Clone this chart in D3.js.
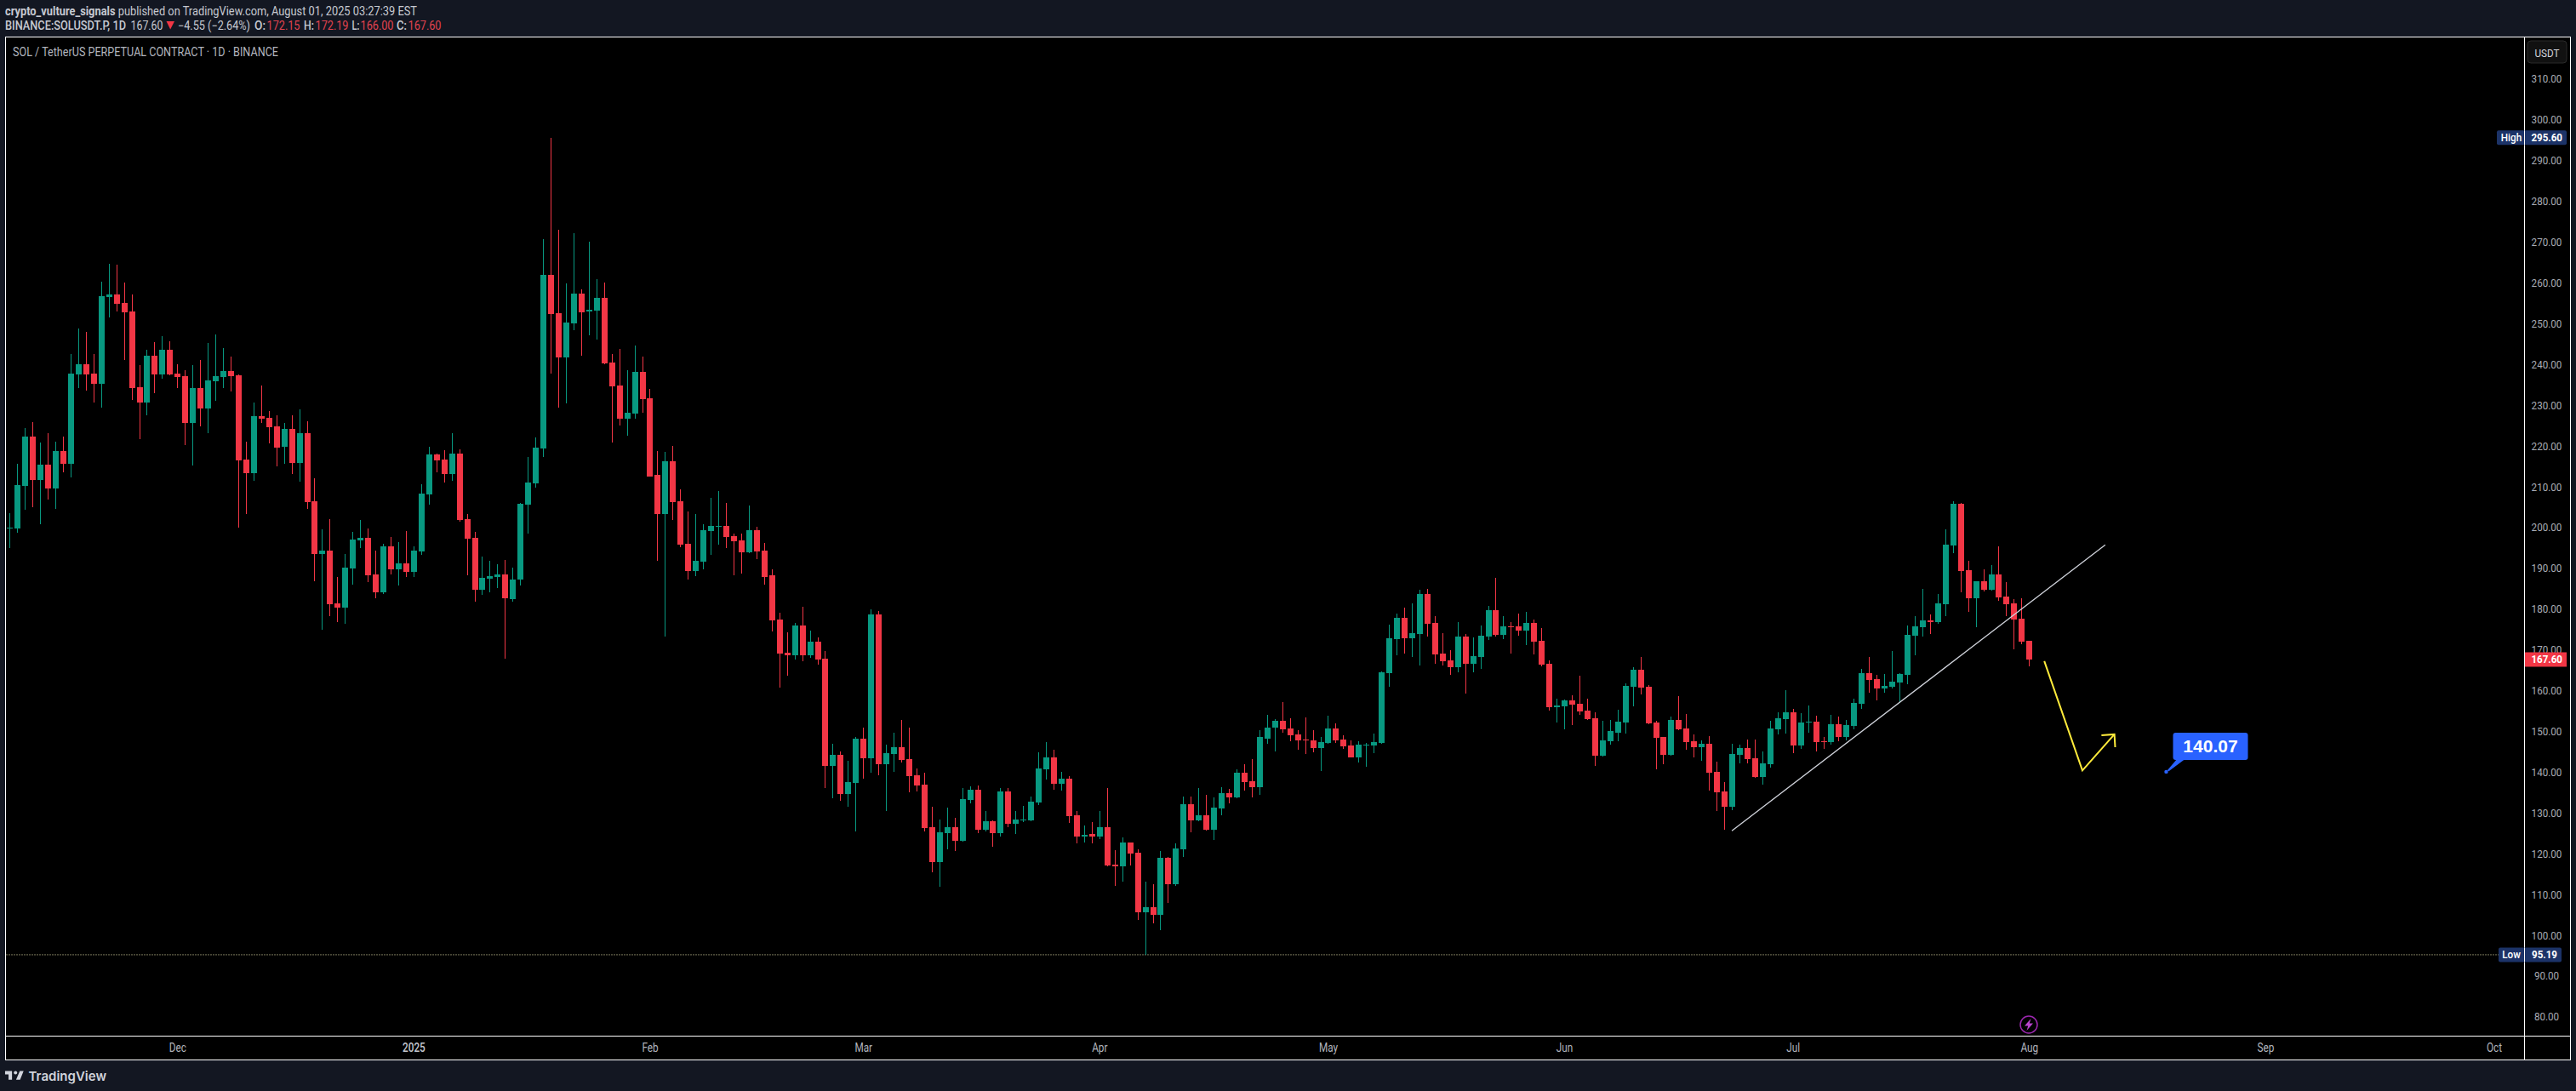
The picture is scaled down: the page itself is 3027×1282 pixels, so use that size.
<!DOCTYPE html>
<html>
<head>
<meta charset="utf-8">
<title>SOL / TetherUS 1D</title>
<script src="https://cdnjs.cloudflare.com/ajax/libs/d3/7.8.5/d3.min.js"></script>
<style>
  html, body { margin: 0; padding: 0; background: #131722; }
  svg { display: block; }
  text { font-family: Roboto, "Noto Sans", sans-serif; }
</style>
</head>
<body>
<div id="chart"></div>
<script>
// daily candles, first one is 2024-11-09, last one 2025-08-01. [open, high, low, close]
const firstDay = Date.UTC(2024, 10, 9);
const ohlc = [
  [199.7,203.4,194.9,199.9],[199.7,215.6,198.6,210.3],[210.1,224.3,204.3,222.2],[222.2,225.8,204.9,211.6],
  [211.6,220.8,200.7,215.4],[215.4,223.1,206.8,209.5],[209.5,221.0,204.5,218.7],[218.7,222.2,213.5,215.6],
  [215.6,242.5,212.2,237.7],[237.5,248.8,234.1,240.0],[240.0,247.9,233.5,237.5],[237.7,242.5,230.6,235.2],
  [235.2,260.2,229.3,256.7],[256.5,264.6,251.5,257.1],[257.1,264.4,252.9,254.8],[255.0,260.0,241.0,252.7],
  [252.9,257.1,231.2,234.1],[234.3,239.8,221.6,230.6],[230.6,243.5,227.5,242.1],[242.1,245.4,232.9,237.5],
  [237.5,246.9,236.4,243.5],[243.5,245.6,237.4,237.5],[237.7,240.0,234.1,236.9],[237.1,238.5,220.2,225.6],
  [225.6,239.8,215.1,234.1],[234.1,241.0,224.7,229.1],[229.1,245.2,223.1,236.0],[235.8,247.3,231.0,237.1],
  [236.9,244.0,234.1,238.3],[238.3,241.9,233.3,237.1],[237.3,237.5,199.9,216.4],[216.6,221.0,203.2,213.3],
  [213.3,230.6,211.4,227.2],[227.2,234.8,225.6,226.6],[226.8,228.5,220.6,224.5],[224.7,227.5,214.9,219.5],
  [219.7,225.6,215.6,224.1],[224.1,227.5,213.0,215.8],[215.8,228.9,211.2,223.1],[223.1,226.0,204.5,206.2],
  [206.4,212.0,186.9,193.4],[193.4,199.5,175.0,194.3],[194.3,202.0,178.2,181.1],[181.3,187.8,176.7,180.3],
  [180.3,193.4,176.3,190.1],[189.9,198.9,185.9,197.0],[196.8,201.8,194.9,197.4],[197.4,199.7,186.5,188.2],
  [188.4,194.3,182.6,184.0],[184.0,195.9,183.6,195.3],[195.3,197.6,188.4,189.7],[189.7,196.3,185.7,191.1],
  [191.1,199.1,187.8,189.0],[189.0,195.3,187.8,194.3],[194.0,210.5,193.2,208.2],[208.0,219.7,205.5,217.9],
  [217.9,218.1,213.5,216.4],[216.6,218.9,211.1,213.1],[213.1,223.1,211.4,218.1],[218.1,219.1,201.4,201.8],
  [202.0,203.3,188.2,197.2],[197.4,198.9,181.7,184.7],[184.7,192.8,183.5,187.6],[187.3,191.8,184.1,188.0],
  [187.8,190.9,185.1,188.5],[188.5,192.0,167.8,182.6],[182.6,190.1,181.7,187.3],[187.2,206.0,185.7,205.8],
  [205.5,217.2,198.4,211.0],[210.8,222.1,209.8,219.5],[219.4,270.7,217.2,262.0],[262.0,295.6,237.7,252.3],
  [252.5,272.9,229.3,241.7],[241.7,259.9,230.4,250.3],[250.0,272.2,248.4,257.4],[257.4,258.4,242.1,252.9],
  [252.9,270.1,247.1,253.4],[253.1,260.9,246.0,256.3],[256.3,260.0,240.1,240.2],[240.4,242.5,220.8,234.6],
  [234.8,243.8,225.0,226.6],[226.6,238.5,222.5,228.1],[227.9,244.6,226.6,238.1],[238.1,241.9,228.1,231.4],
  [231.7,233.9,212.5,212.6],[212.9,218.7,191.8,203.3],[203.3,218.5,173.2,216.2],[216.2,220.0,201.8,206.2],
  [206.4,209.3,195.1,195.7],[195.9,203.9,187.2,189.3],[189.3,203.3,188.0,191.8],[191.6,200.8,189.7,199.3],
  [199.1,207.3,193.2,200.3],[200.1,208.9,195.7,200.3],[200.3,206.0,194.9,197.6],[197.8,198.4,188.2,196.6],
  [196.8,198.4,188.6,193.8],[193.8,205.4,193.7,199.3],[199.3,200.2,192.2,194.1],[194.3,196.2,186.0,187.8],
  [188.2,189.7,174.5,177.1],[177.4,179.0,160.7,169.0],[169.3,174.3,163.6,168.6],[168.6,176.5,167.6,175.9],
  [175.9,180.5,167.1,168.6],[168.6,174.6,168.0,171.9],[171.9,173.0,166.3,167.5],[167.8,169.6,136.0,141.5],
  [141.5,146.9,133.5,144.2],[144.2,145.0,133.0,134.5],[134.5,142.7,131.5,137.5],[137.3,148.5,125.4,148.1],
  [148.1,151.0,138.3,143.3],[143.3,179.9,139.8,178.6],[178.6,179.5,139.2,141.9],[141.9,146.7,130.4,144.6],
  [144.4,149.6,140.0,146.0],[146.0,152.7,142.3,142.9],[143.1,150.9,135.0,138.9],[139.2,140.8,135.2,136.7],
  [136.9,139.8,125.4,126.2],[126.4,131.4,115.4,117.9],[117.9,128.3,111.8,125.2],[125.0,131.2,121.0,126.4],
  [126.4,128.7,120.6,123.1],[123.1,136.0,122.9,133.3],[133.1,136.4,132.3,135.6],[135.7,136.7,125.0,125.8],
  [125.8,130.4,125.4,127.9],[127.9,128.1,121.6,125.0],[125.0,136.0,124.1,135.2],[135.2,136.0,126.4,127.3],
  [127.3,130.4,124.8,128.3],[128.1,131.6,127.7,128.3],[128.1,133.9,128.0,132.7],[132.5,144.8,131.9,140.8],
  [140.6,147.3,138.1,143.5],[143.5,145.4,135.6,137.1],[137.1,140.0,135.4,138.3],[138.3,139.0,127.5,129.1],
  [129.3,130.4,122.5,124.1],[124.1,126.8,122.7,124.5],[124.8,127.7,122.5,124.1],[124.1,130.4,123.5,126.4],
  [126.4,136.0,116.9,117.0],[117.2,120.8,112.0,116.8],[116.8,123.9,113.1,122.7],[122.7,122.8,117.0,119.9],
  [120.2,121.0,103.7,105.5],[105.5,113.1,95.19,106.8],[106.8,112.4,102.8,104.9],[104.9,120.6,101.2,118.9],
  [118.9,119.1,108.0,112.4],[112.4,122.5,112.0,121.2],[121.0,133.9,119.1,132.1],[132.1,133.9,125.2,128.1],
  [128.1,136.0,127.9,129.3],[129.3,134.4,125.6,125.8],[125.8,133.7,123.3,131.2],[131.0,136.2,129.3,134.8],
  [134.8,135.8,132.3,133.7],[133.7,140.6,133.5,139.8],[139.8,141.9,135.4,137.5],[137.7,143.1,133.7,136.2],
  [136.2,150.2,134.4,148.5],[148.3,154.0,146.9,151.0],[150.9,152.9,145.0,152.5],[152.5,157.1,149.6,150.4],
  [150.6,153.1,147.5,149.0],[149.2,150.2,145.4,147.7],[147.9,153.4,144.4,147.7],[147.7,150.2,144.8,145.8],
  [145.8,148.6,140.2,147.3],[147.1,153.8,147.0,150.6],[150.6,151.9,147.1,147.7],[147.9,149.0,145.6,146.2],
  [146.5,147.7,143.5,143.5],[143.5,147.5,142.3,146.7],[146.5,147.1,141.2,146.7],[146.5,149.4,144.6,147.3],
  [147.1,164.6,146.9,164.4],[164.2,176.1,160.9,172.8],[172.6,178.8,168.6,177.8],[177.8,180.3,169.0,172.8],
  [172.8,181.3,168.2,174.0],[173.8,184.7,166.1,183.6],[183.6,184.9,173.2,176.3],[176.5,178.2,166.5,168.8],
  [169.0,174.0,166.1,167.1],[167.3,169.8,163.8,165.7],[165.7,176.7,164.4,173.2],[173.2,173.8,159.2,166.5],
  [166.5,173.0,164.4,168.4],[168.2,175.9,165.3,173.4],[173.2,180.7,172.4,179.7],[179.7,187.6,173.2,173.6],
  [173.6,178.2,172.6,175.7],[175.7,176.7,169.0,175.5],[175.7,178.8,173.4,174.7],[174.7,179.2,171.1,176.5],
  [176.5,177.4,168.8,171.9],[172.1,175.3,165.9,166.3],[166.5,167.3,155.0,155.9],[155.9,157.9,152.1,156.3],
  [156.1,157.7,150.4,157.5],[157.5,158.8,151.5,156.5],[156.7,163.6,154.0,154.8],[155.0,157.9,152.7,152.9],
  [153.1,154.6,141.5,144.0],[144.0,152.5,143.9,147.7],[147.5,152.7,146.7,150.0],[149.6,155.2,147.5,152.3],
  [152.1,161.7,149.4,161.1],[160.9,165.7,156.1,165.0],[165.0,168.2,159.0,160.7],[160.9,161.3,151.8,151.9],
  [152.1,152.5,140.6,148.3],[148.5,148.6,141.9,144.2],[144.2,153.6,144.1,152.7],[152.7,158.6,150.2,150.4],
  [150.6,154.2,145.4,147.3],[147.5,149.2,143.5,146.0],[146.0,147.7,142.7,146.9],[146.9,148.8,135.4,139.8],
  [140.0,142.5,130.4,135.0],[135.2,137.5,125.8,131.4],[131.4,146.9,130.6,144.4],[144.2,146.7,142.1,145.8],
  [145.8,147.9,142.1,143.1],[143.3,147.9,138.5,138.7],[138.7,145.0,136.9,142.1],[141.9,152.5,141.0,150.6],
  [150.4,154.6,149.2,153.1],[152.9,160.0,149.4,154.6],[154.6,155.4,144.6,146.5],[146.5,154.4,145.6,152.1],
  [152.1,156.3,149.6,152.3],[152.3,153.8,145.0,147.3],[147.5,148.5,145.6,147.3],[147.3,154.0,146.7,151.7],
  [151.7,153.6,147.5,148.5],[148.5,152.7,147.7,151.5],[151.3,157.9,150.4,156.9],[156.7,165.3,155.4,164.2],
  [164.2,168.2,159.4,162.5],[162.7,163.8,157.5,160.4],[160.4,164.0,159.4,161.1],[160.9,169.6,160.4,162.1],
  [161.9,164.2,157.1,164.0],[163.8,175.9,161.5,173.6],[173.4,178.2,168.6,175.7],[175.5,184.9,173.2,177.2],
  [177.2,178.6,173.8,176.7],[176.7,183.6,176.3,181.3],[181.1,199.5,178.2,195.7],[195.5,206.4,193.6,205.8],
  [205.8,205.9,184.0,189.3],[189.5,191.8,179.2,182.6],[182.6,186.9,175.5,186.8],[186.8,189.7,184.2,184.7],
  [184.7,190.7,184.5,188.4],[188.4,195.3,182.0,182.8],[183.0,186.5,178.2,181.1],[181.3,182.4,170.1,177.4],
  [177.6,182.6,171.3,171.9],[172.15,172.19,166.0,167.6]
];

// axes
const priceTicks = d3.range(80, 320, 10);
const monthStarts = [[2024, 11], [2025, 0], [2025, 1], [2025, 2], [2025, 3], [2025, 4], [2025, 5], [2025, 6], [2025, 7], [2025, 8], [2025, 9]];
const monthLabels = ['Dec', '2025', 'Feb', 'Mar', 'Apr', 'May', 'Jun', 'Jul', 'Aug', 'Sep', 'Oct'];

// drawings, in candle index / price
const trendDays = [226, 275];
const trendPrices = [125.6, 195.7];
const arrowDays = [267, 272, 276.2];
const arrowPrices = [167.2, 140.4, 149.25];
const arrowHeadDays = [274.5, 276.2, 276.3];
const arrowHeadPrices = [149.0, 149.25, 146.1];
const calloutDay = 283;
const calloutPrice = 140.07;
const highPrice = 295.60;
const lowPrice = 95.19;
const lastPrice = 167.60;

const width = 3027, height = 1282;
const up = '#089981', down = '#f23645';
const left = 6.5, top_ = 43.5, paneRight = 2966.5, frameRight = 3020.5, paneBottom = 1217.5, frameBottom = 1245.5;

const dayDate = i => new Date(firstDay + i * 864e5);
const x = d3.scaleUtc().domain([dayDate(0), dayDate(265)]).range([11.3, 2384.3]);
const y = d3.scaleLinear().domain([80, 310]).range([1194.7, 92.7]);

const svg = d3.select('#chart').append('svg').attr('width', width).attr('height', height);

// the reference type is a bit narrower than Roboto, squeeze to fit
function narrow(sel, k) {
  sel.each(function () {
    this.setAttribute('textLength', this.getComputedTextLength() * k);
    this.setAttribute('lengthAdjust', 'spacingAndGlyphs');
  });
  return sel;
}

// black panes and white frame
svg.append('rect').attr('x', left).attr('y', top_).attr('width', frameRight - left).attr('height', frameBottom - top_)
  .attr('fill', '#000').attr('stroke', '#fff').attr('stroke-width', 1);
svg.append('path').attr('d', `M${paneRight},${top_}V${frameBottom}M${left},${paneBottom}H${frameRight}`)
  .attr('stroke', '#fff').attr('fill', 'none');

// header
const head = svg.append('g').attr('font-size', 14).attr('fill', '#c6c9d1');
function label(g, str, px, py, w, opts) {
  const t = g.append('text').attr('x', px).attr('y', py).attr('textLength', w).attr('lengthAdjust', 'spacingAndGlyphs').text(str);
  if (opts && opts.bold) t.attr('font-weight', opts.bold);
  if (opts && opts.fill) t.attr('fill', opts.fill);
  return t;
}
const byline = head.append('text').attr('x', 6).attr('y', 17.5).attr('textLength', 484).attr('lengthAdjust', 'spacingAndGlyphs');
byline.append('tspan').attr('font-weight', 700).text('crypto_vulture_signals');
byline.append('tspan').text(' published on TradingView.com, August 01, 2025 03:27:39 EST');
label(head, 'BINANCE:SOLUSDT.P, 1D', 6, 34.5, 142, {bold: 500});
label(head, '167.60', 153.5, 34.5, 38);
head.append('path').attr('d', 'M195.5,25H205L200.2,34.5Z').attr('fill', down);
label(head, '\u22124.55 (\u22122.64%)', 209, 34.5, 85);
[['O:', 299, 13, '172.15', 313.5], ['H:', 357, 12, '172.19', 370.5], ['L:', 413.5, 9, '166.00', 423.5], ['C:', 466, 12, '167.60', 479.5]].forEach(d => {
  label(head, d[0], d[1], 34.5, d[2], {bold: 500});
  label(head, d[3], d[4], 34.5, 39, {fill: '#e0434f'});
});
label(svg.append('g').attr('font-size', 14).attr('fill', '#b2b5be'), 'SOL / TetherUS PERPETUAL CONTRACT \u00b7 1D \u00b7 BINANCE', 15, 65.5, 312);

// low line goes under the candles
svg.append('line').attr('x1', left + 1).attr('x2', 2936)
  .attr('y1', y(lowPrice)).attr('y2', y(lowPrice))
  .attr('stroke', '#f4f1b8').attr('stroke-dasharray', '1 2').attr('stroke-width', 1);

// candles
const candles = svg.append('g').attr('shape-rendering', 'crispEdges').selectAll('g')
  .data(ohlc).join('g')
  .attr('fill', d => d[3] >= d[0] ? up : down);
const cx = (d, i) => Math.round(x(dayDate(i)));
candles.append('rect')
  .attr('x', (d, i) => cx(d, i) - 0.5).attr('width', 1)
  .attr('y', d => y(d[1])).attr('height', d => Math.max(1, y(d[2]) - y(d[1])));
candles.append('rect')
  .attr('x', (d, i) => cx(d, i) - 3.5).attr('width', 7)
  .attr('y', d => Math.round(y(Math.max(d[0], d[3]))))
  .attr('height', d => Math.max(1, Math.round(Math.abs(y(d[0]) - y(d[3])))));

// trendline and forecast arrow
const pairLine = d3.line().x(d => x(dayDate(d[0]))).y(d => y(d[1]));
svg.append('path').attr('d', pairLine(d3.zip(trendDays, trendPrices)))
  .attr('stroke', '#d1d4dc').attr('stroke-width', 1.3).attr('fill', 'none');
svg.append('path').attr('d', pairLine(d3.zip(arrowDays, arrowPrices)))
  .attr('stroke', '#ffeb3b').attr('stroke-width', 2).attr('fill', 'none');
svg.append('path').attr('d', pairLine(d3.zip(arrowHeadDays, arrowHeadPrices)))
  .attr('stroke', '#ffeb3b').attr('stroke-width', 2).attr('fill', 'none');

// price callout, the tip sits on its price
const tipX = x(dayDate(calloutDay)), tipY = y(calloutPrice);
const callout = svg.append('g').attr('transform', `translate(${tipX},${tipY})`).attr('fill', '#2962ff');
callout.append('circle').attr('r', 2.2);
callout.append('path').attr('d', 'M1.3,-1.7L3,-0.7L20.7,-14H11.7Z');
callout.append('rect').attr('x', 8).attr('y', -46).attr('width', 88).attr('height', 32).attr('rx', 3);
callout.append('text').attr('x', 52).attr('y', -23).attr('text-anchor', 'middle')
  .style('font-family', '"Liberation Sans", Arial, sans-serif')
  .attr('font-size', 21).attr('font-weight', 700).attr('fill', '#fff').text(calloutPrice.toFixed(2));

// axes
const timeAxis = d3.axisBottom(x)
  .tickValues(monthStarts.map(d => new Date(Date.UTC(d[0], d[1], 1))))
  .tickSize(0)
  .tickFormat((d, i) => monthLabels[i]);
const timeG = svg.append('g').attr('transform', `translate(0,${paneBottom})`).call(timeAxis);
timeG.select('.domain').remove();
timeG.selectAll('text').attr('y', 18).attr('dy', 0)
  .style('font-family', 'Roboto, sans-serif').attr('font-size', 14).attr('fill', '#b2b5be');
timeG.selectAll('text').filter(d => d.getUTCMonth() === 0).attr('font-weight', 500).attr('fill', '#c6c9d1');
narrow(timeG.selectAll('text'), 0.84);

const priceAxis = d3.axisRight(y).tickValues(priceTicks).tickSize(0).tickFormat(d3.format('.2f'));
const priceG = svg.append('g').attr('transform', `translate(${paneRight},0)`).call(priceAxis);
priceG.select('.domain').remove();
priceG.selectAll('text').attr('x', 26).attr('text-anchor', 'middle')
  .style('font-family', 'Roboto, sans-serif').attr('font-size', 13).attr('fill', '#a9acb5');
narrow(priceG.selectAll('text'), 0.895);

// currency button
const unit = svg.append('g');
unit.append('rect').attr('x', 2970).attr('y', 48).attr('width', 46).attr('height', 26).attr('rx', 4)
  .attr('fill', '#111').attr('stroke', '#2a2a2a');
narrow(unit.append('text').attr('x', 2993).attr('y', 66.5).attr('text-anchor', 'middle')
  .attr('font-size', 13).attr('fill', '#d1d4dc').text('USDT'), 0.9);

// high, low and last price tags
function tag(price, name, boxLeft, boxRight, fill) {
  const cy = y(price);
  const g = svg.append('g');
  g.append('rect').attr('x', boxLeft).attr('y', cy - 8.5).attr('width', boxRight - boxLeft).attr('height', 17).attr('rx', name ? 2 : 0).attr('fill', fill);
  if (name) {
    g.append('line').attr('x1', paneRight).attr('x2', paneRight).attr('y1', cy - 8.5).attr('y2', cy + 8.5).attr('stroke', '#fff');
    narrow(g.append('text').attr('x', 2951).attr('y', cy + 4.5).attr('text-anchor', 'middle').attr('font-size', 13).attr('font-weight', 500).attr('fill', '#fff').text(name), 0.9);
  }
  narrow(g.append('text').attr('x', name === 'Low' ? 2990 : 2992.7).attr('y', cy + 4.5).attr('text-anchor', 'middle')
    .attr('font-size', 13).attr('font-weight', 700).attr('fill', '#fff').text(price.toFixed(2)), 0.89);
}
tag(highPrice, 'High', 2934, 3016, '#1c3368');
tag(lowPrice, 'Low', 2936, 3010, '#1c3368');
tag(lastPrice, '', 2967, 3016, down);

// event icon on the time line
const icon = svg.append('g').attr('transform', 'translate(2384,1204)');
icon.append('circle').attr('r', 10).attr('fill', 'none').attr('stroke', '#9c27b0').attr('stroke-width', 1.5);
icon.append('path').attr('d', 'M2.5,-7L-5,1.5H-0.8L-2.5,7L5,-1.5H0.8Z').attr('fill', '#ba45d0');

// footer logo
const logo = svg.append('g').attr('fill', '#d1d4dc');
logo.append('path').attr('transform', 'translate(4.6,1254.4) scale(0.68)')
  .attr('d', 'M14 6H2v6h6v9h6V6Zm14 15h-7l6.5-15H34l-6 15Z');
logo.append('circle').attr('cx', 18.2).attr('cy', 1260.5).attr('r', 2);
logo.append('text').attr('x', 33.5).attr('y', 1269.5).attr('textLength', 91.5).attr('lengthAdjust', 'spacingAndGlyphs')
  .style('font-family', 'Inter, sans-serif').attr('font-size', 15).attr('font-weight', 600).text('TradingView');
</script>
</body>
</html>
